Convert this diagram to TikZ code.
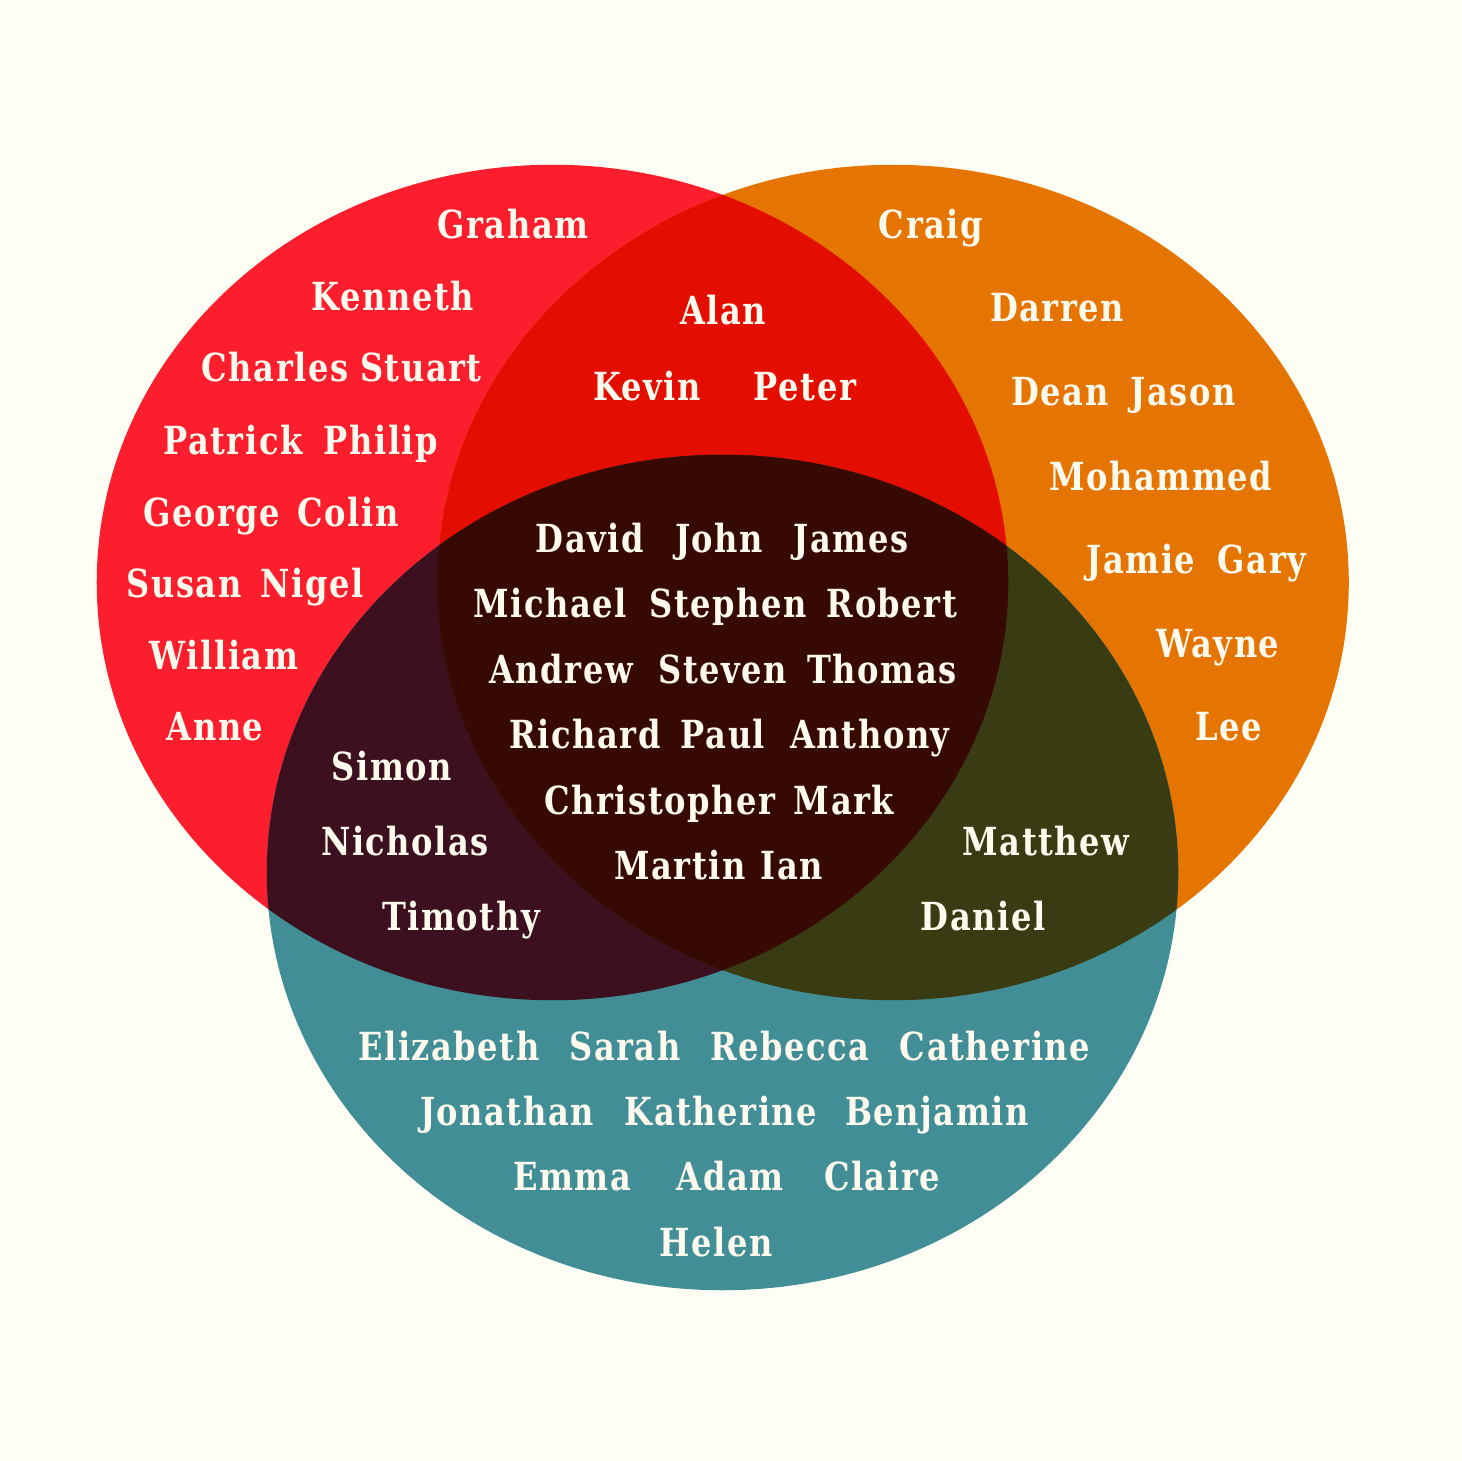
\documentclass[tikz,border=0pt]{standalone}
\usepackage{fontspec}
\newfontfamily\namefont{DejaVu Serif}[FakeStretch=0.83, LetterSpace=4]
\usetikzlibrary{positioning}
\definecolor{PaperBg}{HTML}{FFFEF4}
\definecolor{SetRed}{HTML}{FC1D2D}
\definecolor{SetOrange}{HTML}{E57500}
\definecolor{SetTeal}{HTML}{418E96}
\definecolor{RedOrange}{HTML}{E40E00}
\definecolor{RedTeal}{HTML}{3D101F}
\definecolor{OrangeTeal}{HTML}{393C12}
\definecolor{AllThree}{HTML}{360902}
\definecolor{NameInk}{HTML}{FFFAEE}
\tikzset{
    % one name in the diagram
    namebox/.style={
        anchor=base,
        inner sep=0pt,
        text=NameInk,
        font=\namefont\bfseries\fontsize{11}{13}\selectfont
    },
    % the three sets
    redset/.style={fill=SetRed},
    orangeset/.style={fill=SetOrange},
    tealset/.style={fill=SetTeal}
}
\begin{document}
\begin{tikzpicture}[x=0.01cm, y=-0.01cm]
    % Page
    \fill[PaperBg] (0,0) rectangle (1461,1461);
    \useasboundingbox (0,0) rectangle (1461,1461);

    % Set centres
    \coordinate (cred) at (552.5,582.5);
    \coordinate (corange) at (893,582.5);
    \coordinate (cteal) at (722.5,872.5);

    % Plain sets
    \fill[redset] (cred) ellipse [x radius=4.555cm, y radius=4.175cm];
    \fill[orangeset] (corange) ellipse [x radius=4.555cm, y radius=4.175cm];
    \fill[tealset] (cteal) ellipse [x radius=4.555cm, y radius=4.175cm];

    % Overlaps
    \begin{scope}
        \clip (cred) ellipse [x radius=4.555cm, y radius=4.175cm];
        \fill[RedOrange] (corange) ellipse [x radius=4.555cm, y radius=4.175cm];
        \fill[RedTeal] (cteal) ellipse [x radius=4.555cm, y radius=4.175cm];
    \end{scope}
    \begin{scope}
        \clip (corange) ellipse [x radius=4.555cm, y radius=4.175cm];
        \fill[OrangeTeal] (cteal) ellipse [x radius=4.555cm, y radius=4.175cm];
    \end{scope}
    \begin{scope}
        \clip (cred) ellipse [x radius=4.555cm, y radius=4.175cm];
        \clip (corange) ellipse [x radius=4.555cm, y radius=4.175cm];
        \fill[AllThree] (cteal) ellipse [x radius=4.555cm, y radius=4.175cm];
    \end{scope}

    % Red only
    \foreach \px/\py/\who in {513/239/Graham, 393/311/Kenneth, 275/382/Charles, 421/382/Stuart,
        233/454/Patrick, 381/454/Philip, 212/526/George, 348/526/Colin,
        184/597/Susan, 312/597/Nigel, 224/669/William, 215/740/Anne}
        \node[namebox] (\who) at (\px,\py) {\who};

    % Red and orange
    \foreach \px/\py/\who in {723/324/Alan, 647/400/Kevin, 805/400/Peter}
        \node[namebox] (\who) at (\px,\py) {\who};

    % Orange only
    \foreach \px/\py/\who in {931/239/Craig, 1057/322/Darren, 1060/406/Dean, 1183/406/Jason,
        1161/490/Mohammed, 1141/573/Jamie, 1262/573/Gary, 1218/657/Wayne, 1229/740/Lee}
        \node[namebox] (\who) at (\px,\py) {\who};

    % All three
    \foreach \px/\py/\who in {590/552/David, 719/552/John, 851/552/James,
        550/617/Michael, 728/617/Stephen, 892/617/Robert,
        561/683/Andrew, 723/683/Steven, 882/683/Thomas,
        585/748/Richard, 723/748/Paul, 870/748/Anthony,
        660/814/Christopher, 844/814/Mark,
        680/879/Martin, 792/879/Ian}
        \node[namebox] (\who) at (\px,\py) {\who};

    % Red and teal
    \foreach \px/\py/\who in {392/780/Simon, 405/855/Nicholas, 461/930/Timothy}
        \node[namebox] (\who) at (\px,\py) {\who};

    % Orange and teal
    \foreach \px/\py/\who in {1046/855/Matthew, 983/930/Daniel}
        \node[namebox] (\who) at (\px,\py) {\who};

    % Teal only
    \foreach \px/\py/\who in {449/1060/Elizabeth, 625/1060/Sarah, 790/1060/Rebecca, 995/1060/Catherine,
        507/1125/Jonathan, 721/1125/Katherine, 937/1125/Benjamin,
        572/1190/Emma, 730/1190/Adam, 882/1190/Claire, 716/1256/Helen}
        \node[namebox] (\who) at (\px,\py) {\who};
\end{tikzpicture}
\end{document}
